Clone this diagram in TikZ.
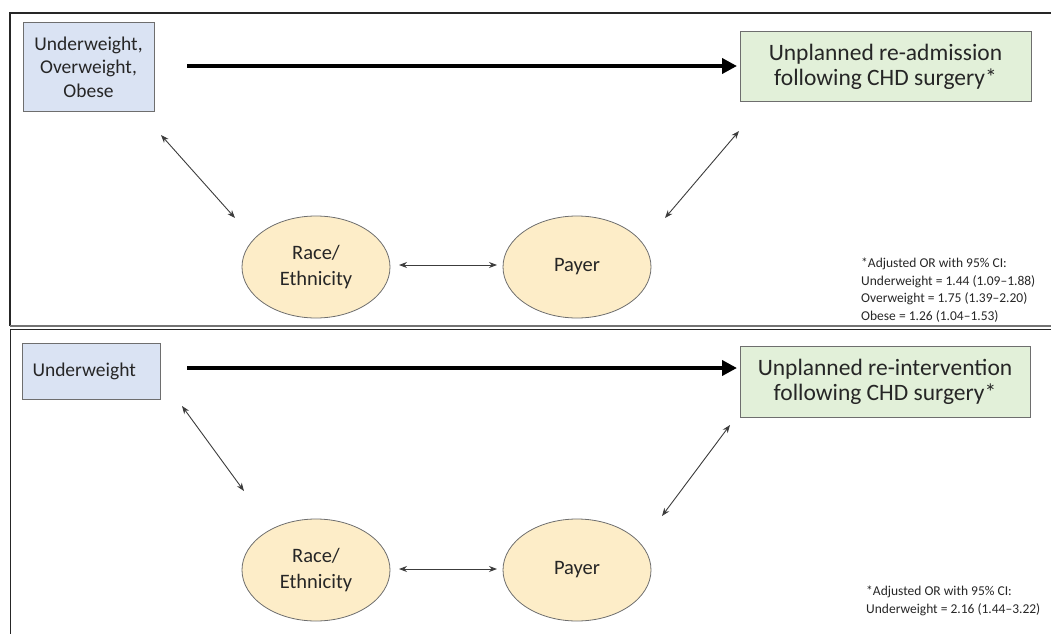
\documentclass[tikz,border=0pt]{standalone}
\usepackage{fontspec}
\setmainfont{Carlito}
\usetikzlibrary{arrows.meta,shapes.geometric}
\definecolor{bluefill}{HTML}{DAE3F3}
\definecolor{greenfill}{HTML}{E2F0D9}
\definecolor{yellowfill}{HTML}{FDEDC8}
\definecolor{boxline}{HTML}{6E6E6E}
\definecolor{txt}{HTML}{262626}
\tikzset{
  bluebox/.style={draw=boxline, line width=1pt, fill=bluefill, inner sep=0pt, text=txt, font=\fontsize{19.5}{23.5}\selectfont, align=center},
  greenbox/.style={draw=boxline, line width=1pt, fill=greenfill, inner sep=0pt, text=txt, font=\fontsize{23.5}{25}\selectfont, align=center},
  oval/.style={draw=boxline, line width=0.8pt, fill=yellowfill, ellipse, minimum width=148pt, minimum height=102pt, inner sep=0pt, text=txt, font=\fontsize{20.5}{26}\selectfont, align=center},
  mainarrow/.style={line width=4pt, -{Triangle[length=15pt,width=15pt]}},
  duo/.style={draw=txt!90, line width=0.9pt, {Stealth[length=8pt,width=6pt]}-{Stealth[length=8pt,width=6pt]}},
  note/.style={anchor=north west, inner sep=0pt, text=txt, font=\fontsize{13.5}{17.6}\selectfont, align=left},
  frame/.style={line width=1.2pt, draw=black!85}
}
\begin{document}
\begin{tikzpicture}[x=1pt,y=-1pt]
\useasboundingbox (0,0) rectangle (1051,634);
% frames
\coordinate (f1) at (10,13); \coordinate (f2) at (1051,13);
\coordinate (f3) at (10,326); \coordinate (f4) at (1051,326);
\draw[frame] (f2) -- (f1) -- (f3);
\draw[line width=2pt, draw=black!55] (f3) -- (f4);
\coordinate (g1) at (10,329); \coordinate (g2) at (1051,329); \coordinate (g3) at (10,634);
\draw[frame, line width=1pt] (g2) -- (g1) -- (g3);

% ---------- top panel ----------
\node[bluebox, minimum width=131pt, minimum height=88pt] (a1) at (88.5,67) {Underweight,\\Overweight,\\Obese};
\node[greenbox, minimum width=291pt, minimum height=69pt] (b1) at (885.5,66.5) {Unplanned re-admission\\following CHD surgery*};
\node[oval] (r1) at (316,267) {Race/\\Ethnicity};
\node[oval] (p1) at (577,267) {Payer};
\coordinate (a1s) at (187,66); \coordinate (b1e) at (737,66);
\draw[mainarrow] (a1s) -- (b1e);
\coordinate (d1a) at (161,135); \coordinate (d1b) at (235,218);
\draw[duo] (d1a) -- (d1b);
\coordinate (d2a) at (739,131); \coordinate (d2b) at (665,218);
\draw[duo] (d2a) -- (d2b);
\coordinate (h1a) at (399,265); \coordinate (h1b) at (497,265);
\draw[duo] (h1a) -- (h1b);
\node[note] (n1) at (861,258) {*Adjusted OR with 95\% CI:\\Underweight = 1.44 (1.09–1.88)\\Overweight = 1.75 (1.39–2.20)\\Obese = 1.26 (1.04–1.53)};

% ---------- bottom panel ----------
\node[bluebox, anchor=west, minimum width=138pt, minimum height=56pt, text width=130pt, align=left] (a2) at (22,371) {\hspace*{6pt}Underweight};
\node[greenbox, minimum width=290pt, minimum height=71pt] (b2) at (885,381.5) {Unplanned re-intervention\\following CHD surgery*};
\node[oval] (r2) at (316,570) {Race/\\Ethnicity};
\node[oval] (p2) at (577,570) {Payer};
\coordinate (a2s) at (187,368); \coordinate (b2e) at (737,368);
\draw[mainarrow] (a2s) -- (b2e);
\coordinate (d3a) at (182,406); \coordinate (d3b) at (244,491);
\draw[duo] (d3a) -- (d3b);
\coordinate (d4a) at (730,425); \coordinate (d4b) at (662,516);
\draw[duo] (d4a) -- (d4b);
\coordinate (h2a) at (399,569); \coordinate (h2b) at (497,569);
\draw[duo] (h2a) -- (h2b);
\node[note] (n2) at (866,586) {*Adjusted OR with 95\% CI:\\Underweight = 2.16 (1.44–3.22)};
\end{tikzpicture}
\end{document}
